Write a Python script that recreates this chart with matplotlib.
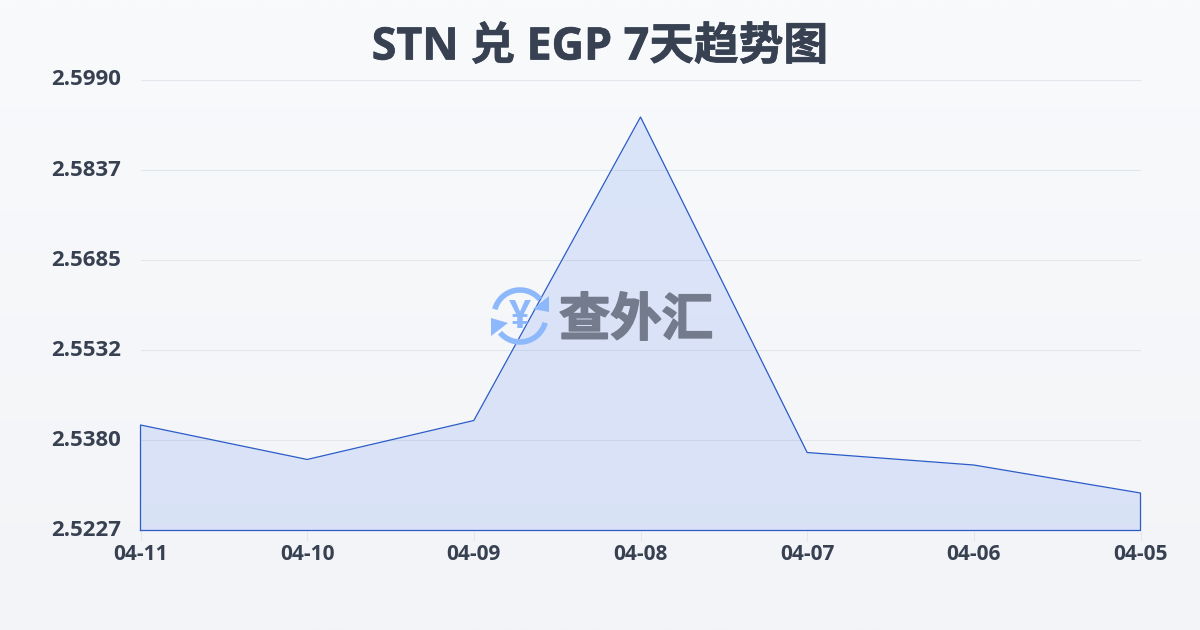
import numpy as np
import matplotlib
matplotlib.use("Agg")
import matplotlib.pyplot as plt
import matplotlib.patheffects as pe
from matplotlib.patches import Arc, Polygon

plt.rcParams['font.family'] = ['Open Sans', 'Noto Sans CJK SC', 'DejaVu Sans']

dates = ['04-11', '04-10', '04-09', '04-08', '04-07', '04-06', '04-05']
rates = [2.54057, 2.53473, 2.54133, 2.59273, 2.53591, 2.53379, 2.52905]
y_ticks = [2.5227, 2.5380, 2.5532, 2.5685, 2.5837, 2.5990]
y_labels = ['2.5227', '2.5380', '2.5532', '2.5685', '2.5837', '2.5990']
title = 'STN 兑 EGP 7天趋势图'
watermark = '查外汇'

W, H = 1200, 630
fig = plt.figure(figsize=(12, 6.3), dpi=100)

bg = fig.add_axes([0, 0, 1, 1], zorder=0)
bg.axis('off')
top = np.array([248, 250, 252]) / 255
bot = np.array([243, 244, 247]) / 255
t = np.linspace(0, 1, 256)[:, None, None]
bg.imshow(top * (1 - t) + bot * t, aspect='auto', extent=[0, 1, 0, 1])

ax = fig.add_axes([140.5 / W, 1 - 530.5 / H, 1000 / W, 450.5 / H], zorder=1)
ax.patch.set_alpha(0)
x = np.arange(len(dates))
ax.fill_between(x, rates, y_ticks[0], color='#2563eb', alpha=0.13, lw=0, zorder=2)
ax.plot(np.r_[x[0], x, x[-1], x[0]],
        np.r_[y_ticks[0], rates, y_ticks[0], y_ticks[0]],
        color='#2a5bc8', lw=0.9, zorder=3, clip_on=False)
ax.set_xlim(0, len(dates) - 1)
ax.set_ylim(y_ticks[0], y_ticks[-1])
ax.set_yticks(y_ticks)
ax.set_yticklabels(y_labels, fontsize=16, fontweight='bold', color='#374151', va='center')
ax.set_xticks(x)
ax.set_xticklabels(dates, fontsize=15, fontweight='bold', color='#374151')
ax.tick_params(axis='y', length=0, pad=14)
ax.tick_params(axis='x', length=7, width=0.8, color='#e3e6ea', pad=3)
ax.grid(axis='y', color='#e3e6ea', lw=0.8, zorder=1)
ax.set_axisbelow(True)
for s in ax.spines.values():
    s.set_visible(False)

ov = fig.add_axes([0, 0, 1, 1], zorder=3)
ov.set_xlim(0, W)
ov.set_ylim(H, 0)
ov.axis('off')
ov.text(600, 48, title, ha='center', va='center', fontsize=32.2, fontweight='bold',
        color='#374151', path_effects=[pe.withStroke(linewidth=0.5, foreground='#374151')])

ov.text(636, 320, watermark, ha='center', va='center', fontsize=37, fontweight='bold',
        color='#737b8c', family=['Noto Sans CJK SC'],
        path_effects=[pe.withStroke(linewidth=1.2, foreground='#737b8c')])
icon = '#8db8fb'
ov.add_patch(Arc((520, 316), 52, 52, theta1=195, theta2=320, color=icon, lw=4))
ov.add_patch(Arc((520, 316), 52, 52, theta1=15, theta2=140, color=icon, lw=4))
ov.add_patch(Polygon([[549, 296], [549, 312], [533, 309]], closed=True, fc=icon, ec='none'))
ov.add_patch(Polygon([[491, 336], [491, 318], [508, 323]], closed=True, fc=icon, ec='none'))
ov.text(520, 317, '¥', ha='center', va='center', fontsize=28, fontweight='bold', color=icon)

fig.savefig('out.png', dpi=100)
